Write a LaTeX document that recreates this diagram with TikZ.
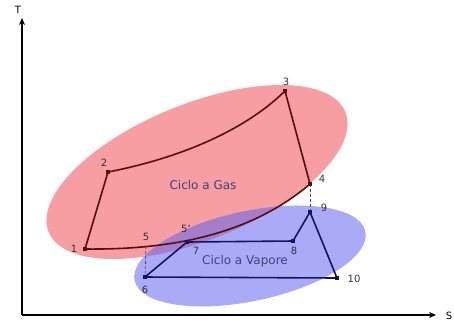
\documentclass[tikz,border=0pt]{standalone}
\usepackage{fontspec}
\setsansfont{DejaVu Sans}
\usetikzlibrary{arrows.meta}
\definecolor{rosso}{RGB}{246,158,162}
\definecolor{blu}{RGB}{100,100,238}
\definecolor{gasline}{RGB}{85,15,15}
\definecolor{vapline}{RGB}{20,20,95}
\definecolor{testo}{RGB}{65,65,125}
\begin{document}
\begin{tikzpicture}[x=1pt, y=-1pt,
    asse/.style={line width=2pt, -{Stealth[length=7pt, width=6pt]}},
    gas/.style={gasline, line width=1.6pt},
    vap/.style={vapline, line width=1.6pt},
    tratt/.style={densely dashed, gray!60!black, line width=0.7pt},
    etich/.style={font=\sffamily, text=black!80}]
            \useasboundingbox (0,0) rectangle (454,325);

            % Coordonnées des points du cycle
            \coordinate (P1) at (85,249);
            \coordinate (P2) at (108,172);
            \coordinate (P3) at (285,91);
            \coordinate (P4) at (310,184);
            \coordinate (P5) at (146,246);
            \coordinate (P6) at (145,277);
            \coordinate (P7) at (187,242);
            \coordinate (P8) at (293,241);
            \coordinate (P9) at (310,212);
            \coordinate (P10) at (337,278);
            \coordinate (O) at (22,315);

            % Ellipses
            \fill[rosso] (197,172) ellipse [x radius=160, y radius=68, rotate=22];
            \fill[blu, opacity=0.55] (250,256) ellipse [x radius=118, y radius=45, rotate=12];
            \node[testo, font=\sffamily\large] (gas) at (203,185) {Ciclo a Gas};
            \node[testo, font=\sffamily\large] (vapore) at (245,261) {Ciclo a Vapore};

            % Axes
            \draw[asse] (O) -- (22,18);
            \draw[asse] (O) -- (436,315);
            \node[font=\sffamily] (T) at (18,10) {T};
            \node[font=\sffamily] (S) at (449,316) {S};

            % Ciclo a gas
            \draw[gas] (P1) -- (P2) .. controls (170,160) and (240,135) .. (P3) -- (P4)
                .. controls (250,235) and (170,250) .. (P1);

            % Ciclo a vapore
            \draw[vap] (P6) -- (P7) -- (P8) -- (P9) -- (P10) -- (P6);

            % Liaisons
            \draw[tratt] (P5) -- (P6);
            \draw[tratt] (P4) -- (P9);

            % Sommets
            \foreach \p in {P1,P2,P3,P4}
                \fill[gasline] (\p) ++(-2,-2) rectangle ++(4,4);
            \foreach \p in {P6,P7,P8,P9,P10}
                \fill[vapline] (\p) ++(-2,-2) rectangle ++(4,4);

            \node[etich] (l1) at (74,249) {1};
            \node[etich] (l2) at (104,163) {2};
            \node[etich] (l3) at (286,82) {3};
            \node[etich] (l4) at (322,179) {4};
            \node[etich] (l5) at (146,237) {5};
            \node[etich] (l5p) at (186,229) {5'};
            \node[etich] (l6) at (145,290) {6};
            \node[etich] (l7) at (196,251) {7};
            \node[etich] (l8) at (294,251) {8};
            \node[etich] (l9) at (324,208) {9};
            \node[etich] (l10) at (354,279) {10};
        \end{tikzpicture}
\end{document}
